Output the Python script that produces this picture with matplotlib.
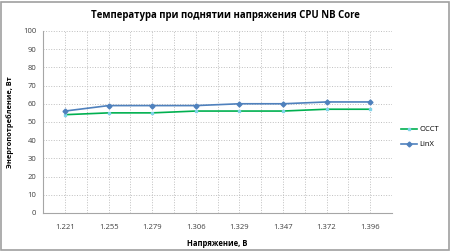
import matplotlib.pyplot as plt
from matplotlib.patches import Rectangle

plt.rcParams['font.family'] = ['Open Sans', 'DejaVu Sans']

voltage = ['1.221', '1.255', '1.279', '1.306', '1.329', '1.347', '1.372', '1.396']
occt = [54, 55, 55, 56, 56, 56, 57, 57]
linx = [56, 59, 59, 59, 60, 60, 61, 61]

fig = plt.figure(figsize=(4.5, 2.52), dpi=100)
ax = fig.add_axes([0.096, 0.155, 0.775, 0.722])

x = [i + 0.5 for i in range(len(voltage))]
ax.plot(x, occt, color='#00B050', lw=1.2, marker='s', ms=2, mfc='#7FD3E8', mec='#7FD3E8', label='OCCT')
ax.plot(x, linx, color='#4F81BD', lw=1.2, marker='D', ms=2.5, mfc='#4F81BD', mec='#4F81BD', label='LinX')

ax.set_xlim(0, len(voltage))
ax.set_ylim(0, 100)
ax.set_yticks(range(0, 101, 10))
ax.set_xticks(x)
ax.set_xticklabels(voltage)
ax.set_xticks([i * 0.5 for i in range(2 * len(voltage) + 1)], minor=True)
ax.tick_params(which='both', length=0, labelsize=5.5, colors='#404040')
ax.tick_params(axis='x', pad=8)
ax.tick_params(axis='y', pad=5)
ax.grid(True, which='both', color='#BFBFBF', ls=':', lw=0.7)
ax.grid(False, axis='y', which='minor')
ax.set_axisbelow(True)
for s in ['top', 'right']:
    ax.spines[s].set_visible(False)
for s in ['left', 'bottom']:
    ax.spines[s].set_color('#A6A6A6')
    ax.spines[s].set_linewidth(0.8)

ax.set_xlabel('Напряжение, В', fontsize=5.5, fontweight='bold', labelpad=6)
ax.set_ylabel('Энергопотребление, Вт', fontsize=5.3, fontweight='bold')
ax.yaxis.set_label_coords(-0.083, 0.5)
fig.text(0.5, 0.94, 'Температура при поднятии напряжения CPU NB Core',
         ha='center', va='center', fontsize=6.9, fontweight='bold')

fig.legend(loc='center left', bbox_to_anchor=(0.885, 0.456), frameon=False, fontsize=5.5,
           handlelength=2.0, handletextpad=0.4, labelspacing=1.0, borderaxespad=0)

fig.patches.append(Rectangle((0.003, 0.006), 0.994, 0.988, transform=fig.transFigure,
                             fill=False, ec='#A0A0A0', lw=1.2))

fig.savefig('out.png', dpi=100)
